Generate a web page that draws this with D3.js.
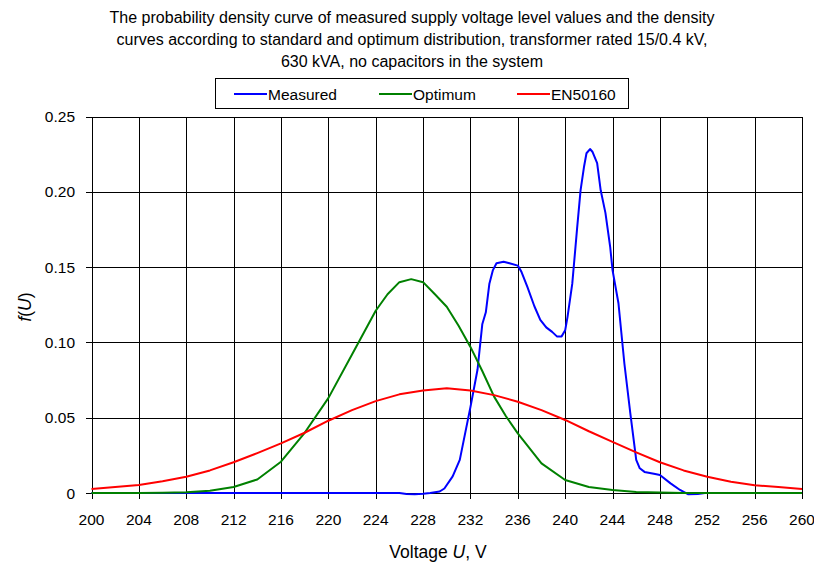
<!DOCTYPE html>
<html>
<head>
<meta charset="utf-8">
<script src="https://cdn.jsdelivr.net/npm/d3@7"></script>
<style>
  html, body { margin: 0; padding: 0; background: #fff; }
  svg { display: block; font-family: "Liberation Sans", Arial, sans-serif; }
</style>
</head>
<body>
<svg id="chart" width="814" height="563"></svg>
<script>
// Title lines
const titleLines = [
  "The probability density curve of measured supply voltage level values and the density",
  "curves according to standard and optimum distribution, transformer rated 15/0.4 kV,",
  "630 kVA, no capacitors in the system"
];

// Axis ticks
const xTicks = [200, 204, 208, 212, 216, 220, 224, 228, 232, 236, 240, 244, 248, 252, 256, 260];
const yTicks = [0, 0.05, 0.10, 0.15, 0.20, 0.25];
const yTickLabels = ["0", "0.05", "0.10", "0.15", "0.20", "0.25"];

// Measured density
const measuredU = [200, 210, 220, 226, 226.6, 227.3, 228, 228.6, 229.4, 229.8, 230.5, 231.1, 232, 232.6, 233.0, 233.3, 233.6, 233.9,
  234.2, 234.8, 235.3, 236.0, 236.3, 236.8, 237.4, 237.9, 238.4, 238.9, 239.3, 239.7, 240.0, 240.2, 240.6,
  241.0, 241.3, 241.6, 241.8, 242.1, 242.3, 242.7, 243.0, 243.4, 243.8, 244.0, 244.5, 245.0, 245.5, 246.0,
  246.3, 246.7, 247.6, 248.0, 248.9, 249.7, 250.4, 251.2, 251.8, 254, 260];
const measuredF = [0, 0, 0, 0, -0.0006, -0.0008, -0.0005, 0, 0.001, 0.003, 0.011, 0.022, 0.057, 0.082, 0.112, 0.120, 0.139, 0.148,
  0.1525, 0.1536, 0.1525, 0.151, 0.147, 0.137, 0.124, 0.115, 0.110, 0.107, 0.104, 0.104, 0.108, 0.117, 0.139,
  0.175, 0.201, 0.217, 0.2256, 0.2284, 0.2266, 0.219, 0.201, 0.186, 0.1635, 0.148, 0.126, 0.086, 0.053, 0.022,
  0.0164, 0.014, 0.0126, 0.012, 0.0064, 0.002, -0.0009, -0.0007, 0, 0, 0];

// Optimum distribution density
const optimumU = [200, 202, 204, 206, 208, 210, 212, 214, 216, 218, 220, 222, 224, 225, 226, 227, 228, 229, 230, 231,
  232, 233, 234, 235, 236, 238, 240, 242, 244, 246, 248, 250, 252, 254, 256, 258, 260];
const optimumF = [0, 0, 0, 0.0002, 0.0005, 0.0015, 0.004, 0.009, 0.0208, 0.040, 0.063, 0.092, 0.121, 0.132, 0.140, 0.142, 0.140, 0.132, 0.1237, 0.111,
  0.097, 0.081, 0.064, 0.051, 0.0396, 0.0197, 0.0086, 0.004, 0.002, 0.0007, 0.0003, 0, 0, 0, 0, 0, 0];

// EN50160 distribution density
const standardU = [200, 202, 204, 206, 208, 210, 212, 214, 216, 218, 220, 222, 224, 226, 228, 230,
  232, 234, 236, 238, 240, 242, 244, 246, 248, 250, 252, 254, 256, 258, 260];
const standardF = [0.0027, 0.004, 0.0053, 0.0078, 0.0108, 0.015, 0.0204, 0.0265, 0.033, 0.040, 0.048, 0.055, 0.061, 0.0655, 0.068, 0.0695,
  0.068, 0.065, 0.0606, 0.055, 0.0485, 0.041, 0.034, 0.027, 0.0204, 0.015, 0.0108, 0.0075, 0.0051, 0.004, 0.0027];

const seriesNames = ["Measured", "Optimum", "EN50160"];
const seriesColors = ["#0000ff", "#008000", "#ff0000"];

const svg = d3.select("#chart");

const x = d3.scaleLinear().domain([200, 260]).range([91.5, 802]);
const y = d3.scaleLinear().domain([0, 0.25]).range([493, 116.5]);

// Title
svg.append("g").selectAll("text").data(titleLines).join("text")
  .attr("x", 412).attr("y", (d, i) => 23 + i * 22)
  .attr("text-anchor", "middle").attr("font-size", 16).attr("fill", "#000")
  .text(d => d);

// Grid
const grid = svg.append("g").attr("shape-rendering", "crispEdges").attr("stroke", "#000").attr("stroke-width", 1);
grid.selectAll("line.v").data(xTicks).join("line").attr("class", "v")
  .attr("x1", d => Math.round(x(d)) + 0.5).attr("x2", d => Math.round(x(d)) + 0.5)
  .attr("y1", y(0.25)).attr("y2", y(0) + 6);
grid.selectAll("line.h").data(yTicks).join("line").attr("class", "h")
  .attr("y1", d => Math.round(y(d)) + 0.5).attr("y2", d => Math.round(y(d)) + 0.5)
  .attr("x1", x(200) - 6).attr("x2", x(260));

// Y tick labels
svg.append("g").selectAll("text").data(yTicks).join("text")
  .attr("x", 75).attr("y", d => y(d) + 5.5)
  .attr("text-anchor", "end").attr("font-size", 15.5).attr("fill", "#000")
  .text((d, i) => yTickLabels[i]);

// X tick labels
svg.append("g").selectAll("text").data(xTicks).join("text")
  .attr("x", d => x(d)).attr("y", 524.5)
  .attr("text-anchor", "middle").attr("font-size", 15.5).attr("fill", "#000")
  .text(d => d);

// Axis titles
const xt = svg.append("text").attr("x", 438).attr("y", 558)
  .attr("text-anchor", "middle").attr("font-size", 17.5).attr("fill", "#000");
xt.append("tspan").text("Voltage ");
xt.append("tspan").attr("font-style", "italic").text("U");
xt.append("tspan").text(", V");

const yt = svg.append("text").attr("transform", "translate(31,307) rotate(-90)")
  .attr("text-anchor", "middle").attr("font-size", 17.5).attr("fill", "#000");
yt.append("tspan").attr("font-style", "italic").text("f");
yt.append("tspan").text("(");
yt.append("tspan").attr("font-style", "italic").text("U");
yt.append("tspan").text(")");

// Curves
const line = d3.line().x(d => x(d[0])).y(d => y(d[1])).curve(d3.curveLinear);
const series = [
  d3.zip(measuredU, measuredF),
  d3.zip(optimumU, optimumF),
  d3.zip(standardU, standardF)
];
svg.append("g").selectAll("path").data(series).join("path")
  .attr("d", line).attr("fill", "none")
  .attr("stroke", (d, i) => seriesColors[i]).attr("stroke-width", 2)
  .attr("stroke-linejoin", "round");

// Legend
const legend = svg.append("g");
legend.append("rect").attr("x", 215.5).attr("y", 78.5).attr("width", 413).attr("height", 30)
  .attr("fill", "#fff").attr("stroke", "#000").attr("stroke-width", 1);
const legendX = [234, 379, 517];
const items = legend.selectAll("g").data(seriesNames).join("g")
  .attr("transform", (d, i) => `translate(${legendX[i]},94)`);
items.append("line").attr("x1", 0).attr("x2", 33).attr("y1", 0).attr("y2", 0)
  .attr("stroke", (d, i) => seriesColors[i]).attr("stroke-width", 2);
items.append("text").attr("x", 34).attr("y", 5.5).attr("font-size", 15.5).attr("fill", "#000")
  .text(d => d);
</script>
</body>
</html>
